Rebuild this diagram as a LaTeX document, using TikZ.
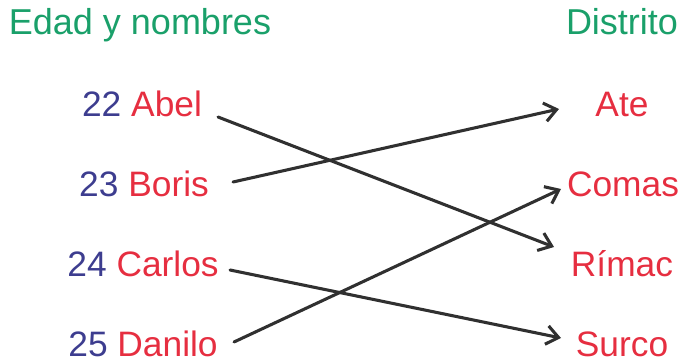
\documentclass[tikz,border=0pt]{standalone}
\usepackage{fontspec}
\setmainfont{Liberation Sans}
\usetikzlibrary{arrows.meta}
\definecolor{hgreen}{HTML}{1AA06A}
\definecolor{nblue}{HTML}{3D3D8F}
\definecolor{nred}{HTML}{E62E40}
\definecolor{lgray}{HTML}{303030}
\tikzset{
  head/.style={font=\fontsize{27}{30}\selectfont, text=hgreen, anchor=base, inner sep=0pt},
  item/.style={font=\fontsize{26.5}{30}\selectfont, anchor=base, inner sep=0pt},
  link/.style={draw=lgray, line width=2.3pt, line cap=round, -{Straight Barb[length=9pt,width=14pt,line width=2.3pt]}}
}
\begin{document}
\begin{tikzpicture}[x=0.75pt,y=-0.75pt]
\useasboundingbox (0,0) rectangle (682,363);
\node[head] (h1) at (140,35) {Edad y nombres};
\node[head] (h2) at (622,35) {Distrito};
\node[item] (abel) at (142,117) {\textcolor{nblue}{22} \textcolor{nred}{Abel}};
\node[item] (boris) at (144,197) {\textcolor{nblue}{23} \textcolor{nred}{Boris}};
\node[item] (carlos) at (143,277) {\textcolor{nblue}{24} \textcolor{nred}{Carlos}};
\node[item] (danilo) at (143,357) {\textcolor{nblue}{25} \textcolor{nred}{Danilo}};
\node[item,text=nred] (ate) at (622,117) {Ate};
\node[item,text=nred] (comas) at (623,197) {Comas};
\node[item,text=nred] (rimac) at (622,277) {Rímac};
\node[item,text=nred] (surco) at (622,357) {Surco};
\coordinate (a1) at (218,117);
\coordinate (a2) at (554,247);
\coordinate (b1) at (233,182);
\coordinate (b2) at (559,109);
\coordinate (c1) at (230,270);
\coordinate (c2) at (561,338);
\coordinate (d1) at (234,342);
\coordinate (d2) at (561,189);
\draw[link] (a1) -- (a2);
\draw[link] (b1) -- (b2);
\draw[link] (c1) -- (c2);
\draw[link] (d1) -- (d2);
\end{tikzpicture}
\end{document}
